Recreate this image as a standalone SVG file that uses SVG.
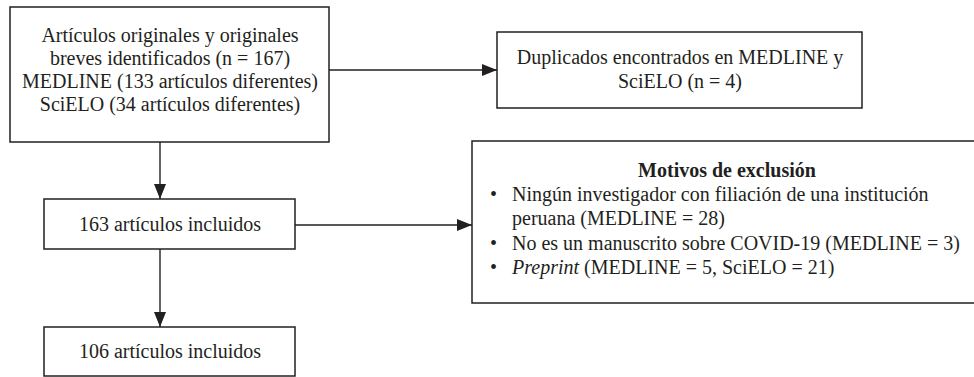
<svg xmlns="http://www.w3.org/2000/svg" width="974" height="377" viewBox="0 0 974 377">
<style>
.box{fill:#fff;stroke:#231f20;stroke-width:1.5}
text{font-family:"Liberation Serif","Times New Roman",serif;font-size:20px;fill:#231f20}
.c{text-anchor:middle}
.b{font-weight:bold}
.i{font-style:italic}
.ln{stroke:#231f20;stroke-width:1.4;fill:none}
</style>
<defs>
<marker id="ah" markerWidth="16" markerHeight="12" refX="15" refY="6" orient="auto" markerUnits="userSpaceOnUse">
<path d="M0,0 L15,6 L0,12 Z" fill="#231f20"/>
</marker>
</defs>
<g id="connectors">
<line class="ln" x1="329" y1="70" x2="497" y2="70" marker-end="url(#ah)"/>
<line class="ln" x1="160" y1="142" x2="160" y2="199" marker-end="url(#ah)"/>
<line class="ln" x1="295" y1="225" x2="472" y2="225" marker-end="url(#ah)"/>
<line class="ln" x1="160" y1="249" x2="160" y2="327" marker-end="url(#ah)"/>
</g>
<g id="n1">
<rect class="box" x="10" y="7" width="319" height="135"/>
<text class="c" x="170" y="42">Artículos originales y originales</text>
<text class="c" x="170" y="65">breves identificados (n = 167)</text>
<text class="c" x="170" y="88">MEDLINE (133 artículos diferentes)</text>
<text class="c" x="170" y="111">SciELO (34 artículos diferentes)</text>
</g>
<g id="n2">
<rect class="box" x="497" y="32" width="365" height="76"/>
<text class="c" x="680" y="64">Duplicados encontrados en MEDLINE y</text>
<text class="c" x="680" y="88">SciELO (n = 4)</text>
</g>
<g id="n3">
<rect class="box" x="44" y="199" width="251" height="50"/>
<text class="c" x="170" y="231">163 artículos incluidos</text>
</g>
<g id="n4">
<rect class="box" x="44" y="327" width="251" height="49"/>
<text class="c" x="170" y="358">106 artículos incluidos</text>
</g>
<g id="n5">
<rect class="box" x="472" y="141" width="505" height="162"/>
<text class="c b" x="727" y="177">Motivos de exclusión</text>
<text x="490" y="201">•</text>
<text x="512" y="201">Ningún investigador con filiación de una institución</text>
<text x="512" y="225">peruana (MEDLINE = 28)</text>
<text x="490" y="250">•</text>
<text x="512" y="250">No es un manuscrito sobre COVID-19 (MEDLINE = 3)</text>
<text x="490" y="274">•</text>
<text x="512" y="274"><tspan class="i">Preprint</tspan> (MEDLINE = 5, SciELO = 21)</text>
</g>
</svg>
